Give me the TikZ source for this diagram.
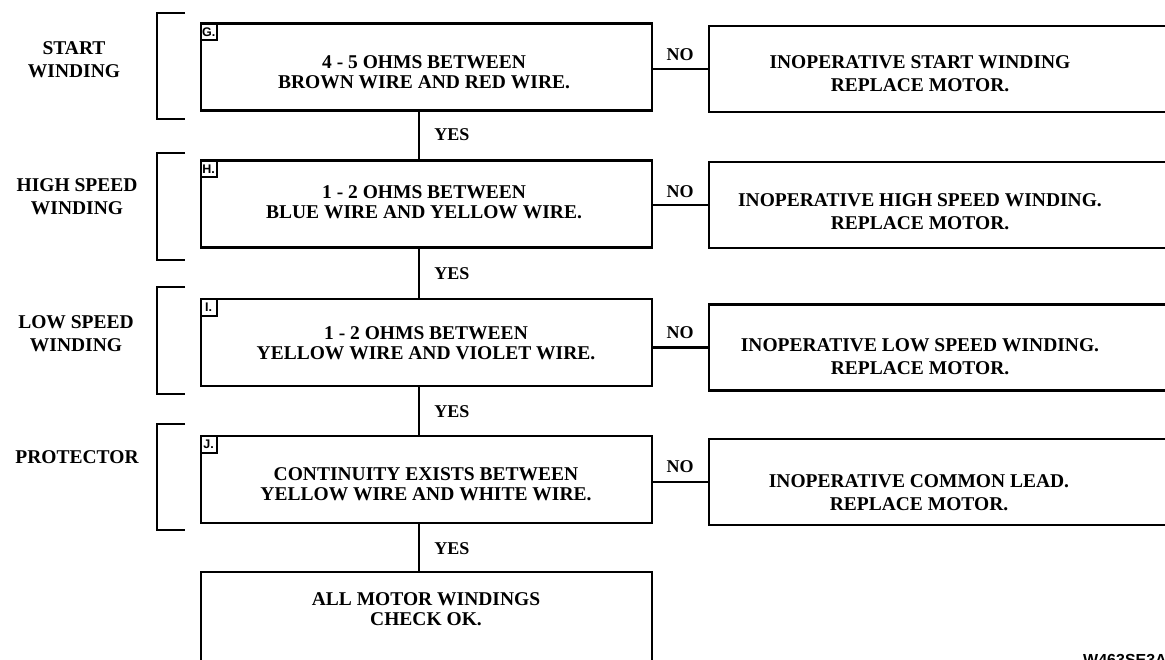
\documentclass[tikz,border=0pt]{standalone}
\usepackage{fontspec}
\setmainfont{Liberation Serif}
\newfontfamily\tagfont{Liberation Sans}
\begin{document}
\begin{tikzpicture}[x=1pt,y=-1pt,
  box/.style={draw,line width=2.6pt,rectangle,minimum width=451pt,minimum height=87pt,inner sep=0pt},
  rbox/.style={draw,line width=2.6pt,rectangle,minimum width=481pt,minimum height=86pt,inner sep=0pt},
  ltxt/.style={font=\fontsize{19.5}{20}\selectfont\bfseries,align=center,inner sep=0pt},
  rtxt/.style={font=\fontsize{19.5}{23}\selectfont\bfseries,align=center,inner sep=0pt},
  side/.style={font=\fontsize{19.5}{23}\selectfont\bfseries,align=center,inner sep=0pt},
  lbl/.style={font=\fontsize{18}{20}\selectfont\bfseries,inner sep=0pt},
  tagbox/.style={draw,line width=2pt,minimum width=16pt,minimum height=17pt,inner sep=0pt,anchor=north west,font=\tagfont\bfseries\fontsize{12.5}{13}\selectfont},
  conn/.style={line width=2.2pt},
  brk/.style={line width=2.2pt}
]
\useasboundingbox (0,0) rectangle (1165,659);
\clip (0,0) rectangle (1165,659);
\fill[white] (0,0) rectangle (1165,659);

% left boxes
\node[box] (g) at (426.5,67) {};
\node[box] (h) at (426.5,204) {};
\node[box] (i) at (426.5,342.5) {};
\node[box] (j) at (426.5,479.5) {};
\node[box,minimum height=140pt] (k) at (426.5,642) {};

% tags
\node[tagbox] (tg) at (g.north west) {G.};
\node[tagbox] (th) at (h.north west) {H.};
\node[tagbox] (ti) at (i.north west) {I.};
\node[tagbox] (tj) at (j.north west) {J.};

% left box texts
\node[ltxt] (gt) at (424,72) {4 - 5 OHMS BETWEEN\\BROWN WIRE AND RED WIRE.};
\node[ltxt] (ht) at (424,202) {1 - 2 OHMS BETWEEN\\BLUE WIRE AND YELLOW WIRE.};
\node[ltxt] (it) at (426,343) {1 - 2 OHMS BETWEEN\\YELLOW WIRE AND VIOLET WIRE.};
\node[ltxt] (jt) at (426,484) {CONTINUITY EXISTS BETWEEN\\YELLOW WIRE AND WHITE WIRE.};
\node[ltxt] (kt) at (426,609) {ALL MOTOR WINDINGS\\CHECK OK.};

% right boxes
\node[rbox] (rg) at (949.5,69) {};
\node[rbox] (rh) at (949.5,205) {};
\node[rbox] (ri) at (949.5,347.5) {};
\node[rbox] (rj) at (949.5,482) {};

\node[rtxt] (rgt) at (920,73.5) {INOPERATIVE START WINDING\\REPLACE MOTOR.};
\node[rtxt] (rht) at (920,211.5) {INOPERATIVE HIGH SPEED WINDING.\\REPLACE MOTOR.};
\node[rtxt] (rit) at (920,356.5) {INOPERATIVE LOW SPEED WINDING.\\REPLACE MOTOR.};
\node[rtxt] (rjt) at (919,492.5) {INOPERATIVE COMMON LEAD.\\REPLACE MOTOR.};

% NO connectors
\draw[conn] (rg.west) -- (rg.west -| g.east);
\draw[conn] (rh.west) -- (rh.west -| h.east);
\draw[conn] (ri.west) -- (ri.west -| i.east);
\draw[conn] (rj.west) -- (rj.west -| j.east);
\node[lbl] (n1) at (680,55) {NO};
\node[lbl] (n2) at (680,192) {NO};
\node[lbl] (n3) at (680,333) {NO};
\node[lbl] (n4) at (680,467) {NO};

% YES connectors
\draw[conn] ([xshift=-7.5pt]g.south) -- ([xshift=-7.5pt]h.north);
\draw[conn] ([xshift=-7.5pt]h.south) -- ([xshift=-7.5pt]i.north);
\draw[conn] ([xshift=-7.5pt]i.south) -- ([xshift=-7.5pt]j.north);
\draw[conn] ([xshift=-7.5pt]j.south) -- ([xshift=-7.5pt]k.north);
\node[lbl] (y1) at (452,135) {YES};
\node[lbl] (y2) at (452,274) {YES};
\node[lbl] (y3) at (452,412) {YES};
\node[lbl] (y4) at (452,549) {YES};

% side labels and brackets
\node[side] (s1) at (74,60) {START\\WINDING};
\node[side] (s2) at (77,196.5) {HIGH SPEED\\WINDING};
\node[side] (s3) at (76,333.5) {LOW SPEED\\WINDING};
\node[side] (s4) at (77,457) {PROTECTOR};
\draw[brk] (185,13) -- (157,13) -- (157,119) -- (185,119);
\draw[brk] (185,153) -- (157,153) -- (157,260) -- (185,260);
\draw[brk] (185,287) -- (157,287) -- (157,394) -- (185,394);
\draw[brk] (185,424) -- (157,424) -- (157,530) -- (185,530);

\node[anchor=base west,inner sep=0pt,font=\tagfont\bfseries\fontsize{16}{16}\selectfont] (code) at (1083,665) {W463SE3A};
\end{tikzpicture}
\end{document}
